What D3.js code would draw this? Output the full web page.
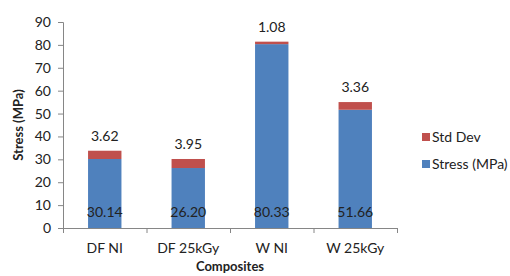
<!DOCTYPE html>
<html>
<head>
<meta charset="utf-8">
<script src="https://cdn.jsdelivr.net/npm/d3@7"></script>
<style>
  body { margin: 0; background: #fff; }
  svg text { font-family: Lato, "Open Sans", sans-serif; fill: #222; }
</style>
</head>
<body>
<div id="chart"></div>
<script>
// chart data
let categories = ["DF NI", "DF 25kGy", "W NI", "W 25kGy"];
let stress = [30.14, 26.20, 80.33, 51.66];
let stdDev = [3.62, 3.95, 1.08, 3.36];
let yTicks = [0, 10, 20, 30, 40, 50, 60, 70, 80, 90];
let seriesNames = ["Std Dev", "Stress (MPa)"];

let margins = { top: 22, left: 63, right: 113, bottom: 48 };
let dims = { width: 510 - margins.left - margins.right, height: 276 - margins.top - margins.bottom };
let colors = { stress: "#4f81bd", std: "#c0504d", axis: "#868686" };

let svg = d3.select("#chart").append("svg")
    .attr("width", 510).attr("height", 276)
  .append("g")
    .attr("transform", "translate(" + margins.left + "," + margins.top + ")");

let x = d3.scaleBand().domain(categories).range([0, dims.width]).padding(0);
let y = d3.scaleLinear().domain([0, 90]).range([dims.height, 0]);
let barW = x.bandwidth() * 0.4;

// y axis
let yAxis = svg.append("g")
    .call(d3.axisLeft(y).tickValues(yTicks).tickSize(5).tickPadding(7));
yAxis.selectAll("text").style("font-size", "14px").style("fill", "#222");
yAxis.selectAll("line").attr("stroke", colors.axis);
yAxis.select(".domain").attr("stroke", colors.axis);

// x axis: boundary ticks
let xb = d3.scaleLinear().domain([0, categories.length]).range([0, dims.width]);
let xTicks = svg.append("g")
    .attr("transform", "translate(0," + dims.height + ")")
    .call(d3.axisBottom(xb).tickValues(d3.range(categories.length + 1)).tickSize(5).tickFormat(""));
xTicks.selectAll("line").attr("stroke", colors.axis);
xTicks.select(".domain").attr("stroke", colors.axis);

let xLabels = svg.append("g")
    .attr("transform", "translate(0," + dims.height + ")")
    .call(d3.axisBottom(x).tickSize(0).tickPadding(15));
xLabels.select(".domain").remove();
xLabels.selectAll("text").style("font-size", "14px").style("fill", "#222");

// bars
let rows = categories.map((c, i) => ({ cat: c, stress: stress[i], std: stdDev[i] }));

let bars = svg.append("g").selectAll("g").data(rows).enter().append("g");
bars.append("rect")
    .attr("x", d => x(d.cat) + (x.bandwidth() - barW) / 2)
    .attr("y", d => y(d.stress))
    .attr("width", barW)
    .attr("height", d => y(0) - y(d.stress))
    .attr("fill", colors.stress);
bars.append("rect")
    .attr("x", d => x(d.cat) + (x.bandwidth() - barW) / 2)
    .attr("y", d => y(d.stress + d.std))
    .attr("width", barW)
    .attr("height", d => y(d.stress) - y(d.stress + d.std))
    .attr("fill", colors.std);

// labels
bars.append("text")
    .attr("x", d => x(d.cat) + x.bandwidth() / 2)
    .attr("y", y(0) - 11)
    .attr("text-anchor", "middle")
    .style("font-size", "14px")
    .text(d => d.stress.toFixed(2));
bars.append("text")
    .attr("x", d => x(d.cat) + x.bandwidth() / 2)
    .attr("y", d => y(d.stress + d.std) - 10)
    .attr("text-anchor", "middle")
    .style("font-size", "14px")
    .text(d => d.std.toFixed(2));

// axis titles
svg.append("text")
    .attr("transform", "translate(" + (18 - margins.left) + "," + (dims.height / 2) + ") rotate(-90)")
    .attr("text-anchor", "middle")
    .attr("dy", "0.35em")
    .style("font-size", "13px").style("font-weight", "bold")
    .text("Stress (MPa)");
svg.append("text")
    .attr("x", dims.width / 2)
    .attr("y", 271 - margins.top)
    .attr("text-anchor", "middle")
    .style("font-size", "13px").style("font-weight", "bold")
    .text("Composites");

// legend
let legend = svg.append("g")
    .attr("transform", "translate(" + (422 - margins.left) + "," + (137 - margins.top) + ")");
let li = legend.selectAll("g").data(seriesNames).enter().append("g")
    .attr("transform", (d, i) => "translate(0," + i * 27 + ")");
li.append("rect")
    .attr("x", 0).attr("y", -4).attr("width", 8).attr("height", 8)
    .attr("fill", (d, i) => i === 0 ? colors.std : colors.stress);
li.append("text")
    .attr("x", 10).attr("dy", "0.35em")
    .style("font-size", "14px")
    .text(d => d);
</script>
</body>
</html>
